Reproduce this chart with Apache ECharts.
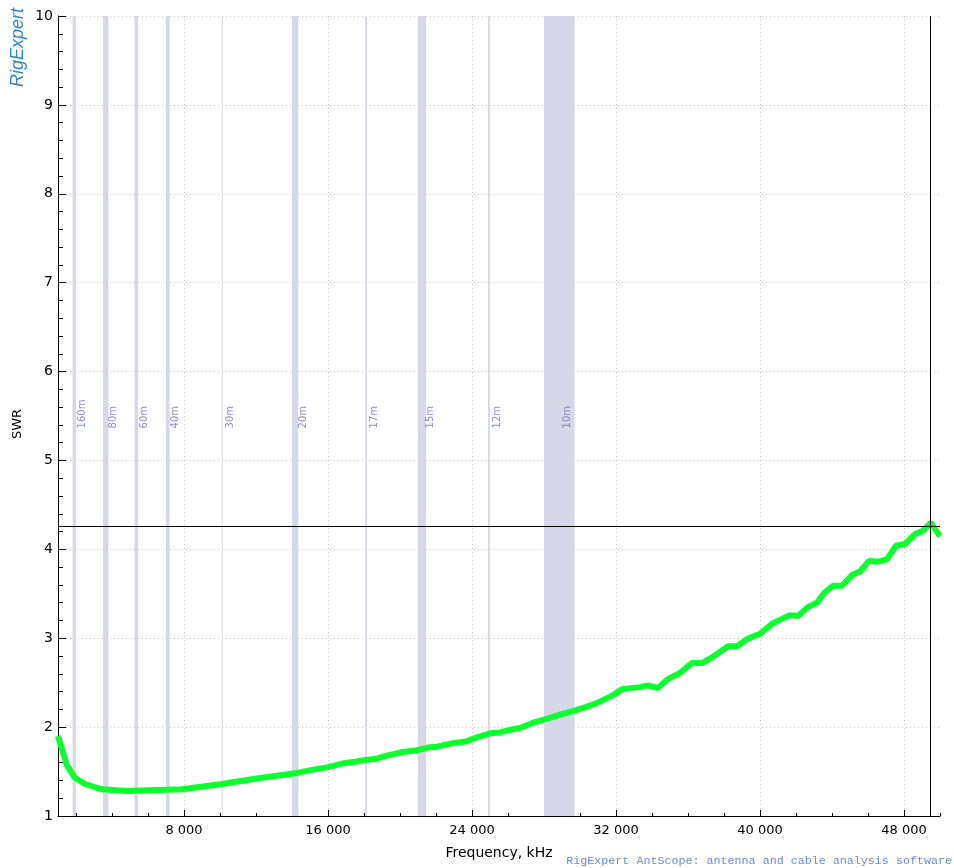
<!DOCTYPE html>
<html>
<head>
<meta charset="utf-8">
<script src="https://cdn.jsdelivr.net/npm/echarts@6/dist/echarts.min.js"></script>
<style>
  html, body { margin: 0; padding: 0; background: #fff; }
  #swr_chart { width: 954px; height: 868px; }
</style>
</head>
<body>
<div id="swr_chart"></div>
<script>
// SWR sweep, frequency in kHz
const freqs = [1000, 1056, 1500, 1944, 2500, 3444, 4889, 6000, 7889, 10111, 11944, 14167, 14889,
  16000, 16778, 17500, 18056, 18611, 19278, 20167, 20944, 21556, 22056, 22944, 23722, 24056,
  25000, 25556, 26111, 26667, 27389, 27944, 28889, 29611, 30389, 30944, 31833, 32389, 33333,
  33778, 34333, 34889, 35556, 36222, 36778, 37389, 38222, 38722, 39278, 40000, 40722, 41667,
  42111, 42667, 43167, 43611, 44056, 44556, 45111, 45556, 46056, 46556, 47056, 47556, 48056,
  48611, 49056, 49500, 49889, 50000];
const swr = [1.90, 1.89, 1.57, 1.43, 1.36, 1.30, 1.28, 1.29, 1.30, 1.36, 1.42, 1.48, 1.51,
  1.55, 1.59, 1.61, 1.63, 1.64, 1.68, 1.72, 1.74, 1.77, 1.78, 1.82, 1.84, 1.87,
  1.93, 1.94, 1.97, 1.99, 2.05, 2.08, 2.14, 2.18, 2.23, 2.27, 2.36, 2.43, 2.45,
  2.47, 2.44, 2.54, 2.61, 2.72, 2.72, 2.79, 2.91, 2.91, 2.99, 3.05, 3.17, 3.26,
  3.25, 3.35, 3.40, 3.52, 3.59, 3.59, 3.71, 3.75, 3.87, 3.86, 3.89, 4.04, 4.06,
  4.17, 4.21, 4.30, 4.18, 4.15];

// amateur bands (kHz)
const bandNames = ['160m', '80m', '60m', '40m', '30m', '20m', '17m', '15m', '12m', '10m'];
const bandStart = [1810, 3500, 5250, 7000, 10100, 14000, 18068, 21000, 24890, 28000];
const bandEnd   = [2000, 3800, 5450, 7200, 10150, 14350, 18168, 21450, 24990, 29700];

// axis ticks
const freqLabels = [8000, 16000, 24000, 32000, 40000, 48000];
const freqMinorTicks = [];
for (let f = 2000; f <= 50000; f += 2000) freqMinorTicks.push(f);

// marker crosshair
const markerFreq = 49450;
const markerSwr = 4.26;

const chart = echarts.init(document.getElementById('swr_chart'));

const fmtFreq = v => String(v).replace(/\B(?=(\d{3})+(?!\d))/g, ' ');
const labelLevel = 5.36;

const option = {
  animation: false,
  backgroundColor: '#fff',
  textStyle: { fontFamily: 'DejaVu Sans' },
  grid: { left: 58, right: 14, top: 16, bottom: 52 },
  graphic: [
    {
      type: 'text', left: 9, top: 8, rotation: Math.PI / 2,
      style: { text: 'RigExpert', fill: '#2f86c8', font: 'italic 18px "Liberation Sans"' }
    },
    {
      type: 'text', right: 2, bottom: 1,
      style: { text: 'RigExpert AntScope: antenna and cable analysis software', fill: '#6a8ad6', font: '11.7px "Liberation Mono"' }
    }
  ],
  xAxis: [
    {
      type: 'value', min: 1000, max: 50000,
      axisLine: { lineStyle: { color: '#000', width: 1 } },
      axisTick: { inside: true, length: 3, customValues: freqMinorTicks, lineStyle: { color: '#000' } },
      axisLabel: { show: false },
      splitLine: { show: false }
    },
    {
      type: 'value', min: 1000, max: 50000, position: 'bottom',
      name: 'Frequency, kHz', nameLocation: 'middle', nameGap: 30,
      nameTextStyle: { fontSize: 14, color: '#000', fontFamily: 'DejaVu Sans' },
      axisLine: { show: false },
      axisTick: { inside: true, length: 6, customValues: freqLabels, lineStyle: { color: '#000' } },
      axisLabel: { customValues: freqLabels, fontSize: 13, color: '#000', margin: 8, formatter: fmtFreq, fontFamily: 'DejaVu Sans' },
      splitLine: { show: true, lineStyle: { color: '#c4c4c4', type: [1, 3] } }
    }
  ],
  yAxis: {
    type: 'value', min: 1, max: 10, interval: 1,
    name: 'SWR', nameLocation: 'middle', nameGap: 33,
    nameTextStyle: { fontSize: 13, color: '#000', fontFamily: 'DejaVu Sans', padding: [0, 16, 0, 0] },
    axisLine: { show: true, lineStyle: { color: '#000', width: 1 } },
    axisTick: { show: true, inside: true, length: 8, lineStyle: { color: '#000' } },
    minorTick: { show: true, splitNumber: 5, length: 5, lineStyle: { color: '#000' } },
    axisLabel: { fontSize: 14, color: '#000', margin: 5, fontFamily: 'DejaVu Sans' },
    splitLine: { show: true, lineStyle: { color: '#c4c4c4', type: [1, 3] } }
  },
  series: [
    {
      name: 'bands', type: 'scatter', xAxisIndex: 0, z: 1,
      symbolSize: 0, silent: true,
      data: bandNames.map((n, i) => ({ name: n, value: [(bandStart[i] + bandEnd[i]) / 2, labelLevel] })),
      label: {
        show: true, formatter: '{b}', rotate: 90, position: [3, 0],
        align: 'left', verticalAlign: 'top', fontSize: 10, color: '#7272b8', fontFamily: 'DejaVu Sans'
      },
      markArea: {
        silent: true,
        itemStyle: { color: '#d6d7e9' },
        data: bandStart.map((s, i) => [{ xAxis: s }, { xAxis: bandEnd[i] }])
      }
    },
    {
      name: 'SWR', type: 'line', xAxisIndex: 0, z: 3,
      data: freqs.map((f, i) => [f, swr[i]]),
      showSymbol: false, smooth: false,
      lineStyle: { width: 6, color: '#0cff2e' },
      markLine: {
        silent: true, symbol: 'none', animation: false,
        label: { show: false },
        lineStyle: { color: '#000', width: 1, type: 'solid' },
        data: [{ xAxis: markerFreq }, { yAxis: markerSwr }]
      }
    }
  ]
};

chart.setOption(option);
</script>
</body>
</html>
